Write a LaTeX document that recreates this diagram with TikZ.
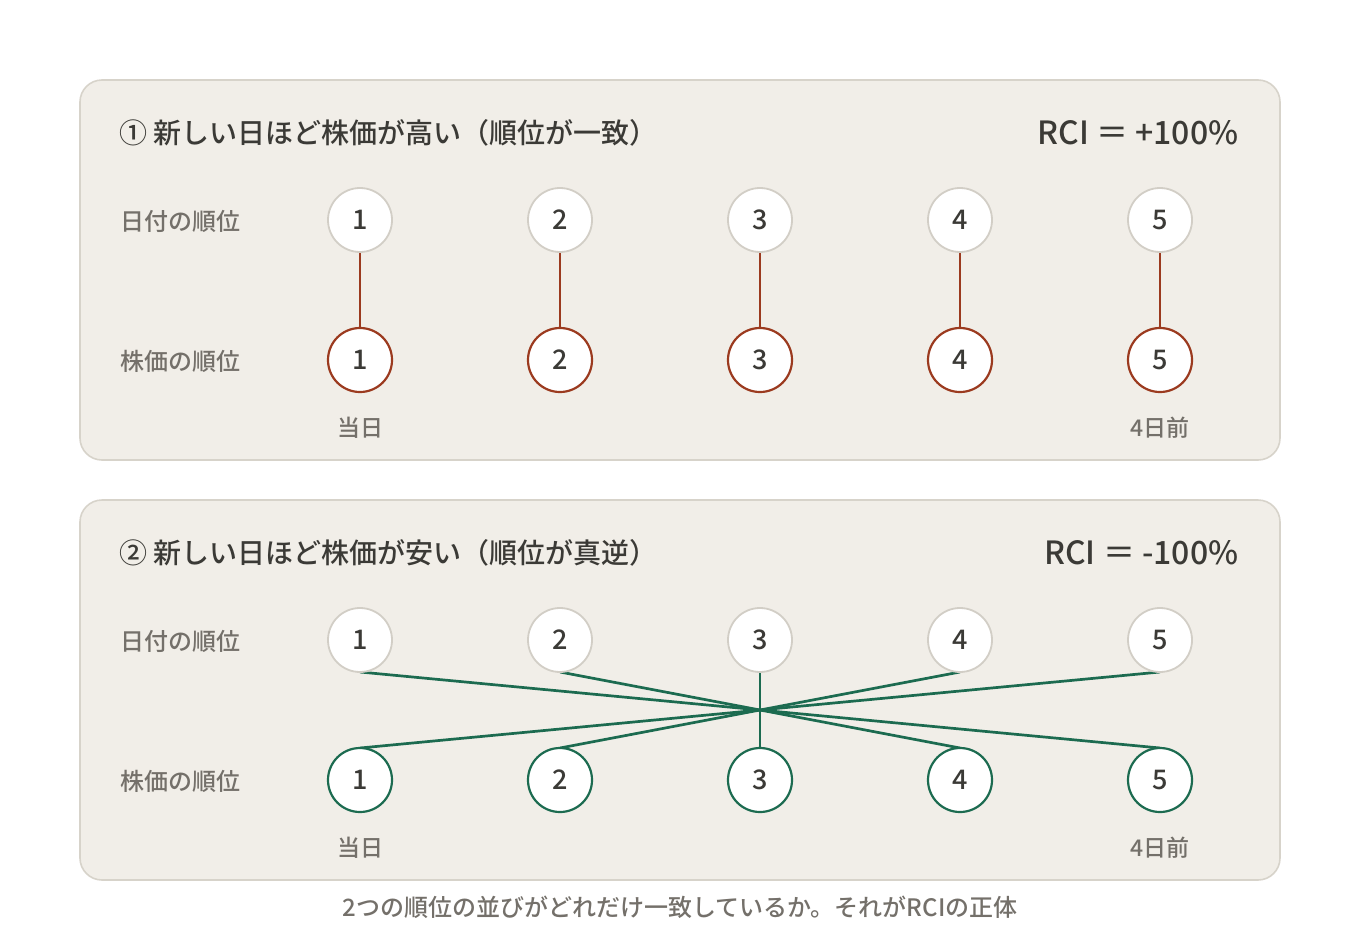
\documentclass[tikz,border=0pt]{standalone}
\usepackage{fontspec}
\setmainfont{Noto Sans CJK JP}
\newfontfamily\medfont{Noto Sans CJK JP Medium}
\usepackage{tikz}
\usepackage{xcolor}

\begin{document}
\begin{tikzpicture}[x=1pt,y=-1pt]
% Define colours
\definecolor{panelbg}{HTML}{F1EEE8}
\definecolor{panelline}{HTML}{D7D3CA}
\definecolor{ink}{HTML}{3B3A36}
\definecolor{soft}{HTML}{74706A}
\definecolor{rust}{HTML}{9B3A1F}
\definecolor{pine}{HTML}{1C6B50}
\definecolor{ringgray}{HTML}{D2CEC6}

\tikzset{
  panel/.style={draw=panelline,line width=1.6pt,fill=panelbg,rounded corners=22pt},
  heading/.style={anchor=west,text=ink,font=\medfont\fontsize{28}{30}\selectfont},
  score/.style={anchor=east,text=ink,font=\medfont\fontsize{32}{34}\selectfont},
  rowlabel/.style={anchor=west,text=soft,font=\medfont\fontsize{24}{26}\selectfont},
  daylabel/.style={text=soft,font=\medfont\fontsize{23}{26}\selectfont},
  daycirc/.style={circle,draw=ringgray,line width=1.8pt,fill=white,minimum size=64pt,inner sep=0pt,text=ink,font=\medfont\fontsize{27}{28}\selectfont},
  upcirc/.style={daycirc,draw=rust,line width=2.2pt},
  downcirc/.style={daycirc,draw=pine,line width=2.2pt},
  upline/.style={draw=rust,line width=2.7pt},
  downline/.style={draw=pine,line width=2.7pt}
}

\useasboundingbox (0,0) rectangle (1360,940);

% Draw panel 1: ranks agree
\draw[panel] (80,80) rectangle (1280,460);
\node[heading] (head1) at (116,133) {① 新しい日ほど株価が高い（順位が一致）};
\node[score] (score1) at (1242,133) {RCI ＝ +100\%};
\node[rowlabel] (date1) at (117,221) {日付の順位};
\node[rowlabel] (price1) at (117,361) {株価の順位};

\node[daycirc] (a1) at (360,220) {1};
\node[daycirc] (a2) at (560,220) {2};
\node[daycirc] (a3) at (760,220) {3};
\node[daycirc] (a4) at (960,220) {4};
\node[daycirc] (a5) at (1160,220) {5};

\node[upcirc] (b1) at (360,360) {1};
\node[upcirc] (b2) at (560,360) {2};
\node[upcirc] (b3) at (760,360) {3};
\node[upcirc] (b4) at (960,360) {4};
\node[upcirc] (b5) at (1160,360) {5};

\draw[upline] (a1.south) -- (b1.north);
\draw[upline] (a2.south) -- (b2.north);
\draw[upline] (a3.south) -- (b3.north);
\draw[upline] (a4.south) -- (b4.north);
\draw[upline] (a5.south) -- (b5.north);

\node[daylabel] (today1) at (360,428) {当日};
\node[daylabel] (back1) at (1160,428) {4日前};

% Draw panel 2: ranks reversed
\draw[panel] (80,500) rectangle (1280,880);
\node[heading] (head2) at (116,553) {② 新しい日ほど株価が安い（順位が真逆）};
\node[score] (score2) at (1242,553) {RCI ＝ -100\%};
\node[rowlabel] (date2) at (117,641) {日付の順位};
\node[rowlabel] (price2) at (117,781) {株価の順位};

% Add crossing lines first
\coordinate (c1) at (360,672);
\coordinate (c2) at (560,672);
\coordinate (c3) at (760,672);
\coordinate (c4) at (960,672);
\coordinate (c5) at (1160,672);
\coordinate (e1) at (360,748);
\coordinate (e2) at (560,748);
\coordinate (e3) at (760,748);
\coordinate (e4) at (960,748);
\coordinate (e5) at (1160,748);
\draw[downline] (c1) -- (e5);
\draw[downline] (c2) -- (e4);
\draw[downline] (c3) -- (e3);
\draw[downline] (c4) -- (e2);
\draw[downline] (c5) -- (e1);

\node[daycirc] (p1) at (360,640) {1};
\node[daycirc] (p2) at (560,640) {2};
\node[daycirc] (p3) at (760,640) {3};
\node[daycirc] (p4) at (960,640) {4};
\node[daycirc] (p5) at (1160,640) {5};

\node[downcirc] (q1) at (360,780) {1};
\node[downcirc] (q2) at (560,780) {2};
\node[downcirc] (q3) at (760,780) {3};
\node[downcirc] (q4) at (960,780) {4};
\node[downcirc] (q5) at (1160,780) {5};

\node[daylabel] (today2) at (360,848) {当日};
\node[daylabel] (back2) at (1160,848) {4日前};

% Add caption
\node[daylabel,font=\medfont\fontsize{24}{26}\selectfont] (caption) at (680,907) {2つの順位の並びがどれだけ一致しているか。それがRCIの正体};
\end{tikzpicture}
\end{document}
